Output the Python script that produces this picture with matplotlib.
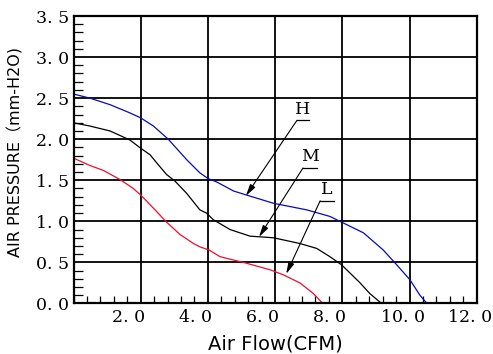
import numpy as np
import matplotlib
matplotlib.use('Agg')
import matplotlib.pyplot as plt
from matplotlib.ticker import MultipleLocator
from matplotlib.transforms import ScaledTranslation

# H curve (blue)
h_flow = [0.0, 0.49, 1.09, 1.68, 2.0, 2.38, 2.82, 3.37, 3.76, 4.01, 4.26, 4.76, 5.15, 5.95, 6.94,
          7.63, 7.98, 8.63, 9.22, 9.62, 10.01, 10.31, 10.52]
h_pres = [2.55, 2.50, 2.42, 2.32, 2.26, 2.16, 2.0, 1.75, 1.59, 1.52, 1.48, 1.37, 1.32, 1.22, 1.14,
          1.06, 0.99, 0.86, 0.65, 0.47, 0.29, 0.10, 0.0]
# M curve (black)
m_flow = [0.0, 0.49, 1.09, 1.68, 2.0, 2.28, 2.48, 2.77, 3.02, 3.37, 3.76, 3.96, 4.16, 4.66, 5.25,
          5.95, 6.74, 7.24, 7.63, 7.98, 8.53, 8.82, 9.17]
m_pres = [2.20, 2.16, 2.10, 1.99, 1.89, 1.81, 1.71, 1.57, 1.49, 1.34, 1.14, 1.10, 1.02, 0.90, 0.82,
          0.80, 0.73, 0.67, 0.57, 0.47, 0.25, 0.12, 0.0]
# L curve (red)
l_flow = [0.0, 0.49, 0.89, 1.38, 1.78, 2.0, 2.38, 2.77, 3.17, 3.57, 3.76, 4.04, 4.36, 5.15, 5.85,
          6.24, 6.74, 7.14, 7.42]
l_pres = [1.77, 1.68, 1.62, 1.51, 1.40, 1.32, 1.16, 0.99, 0.84, 0.73, 0.69, 0.65, 0.57, 0.49, 0.41,
          0.35, 0.25, 0.12, 0.0]

x_ticks = [2, 4, 6, 8, 10, 12]
x_labels = ['2. 0', '4. 0', '6. 0', '8. 0', '10. 0', '12. 0']
y_ticks = [0, 0.5, 1.0, 1.5, 2.0, 2.5, 3.0, 3.5]
y_labels = ['0. 0', '0. 5', '1. 0', '1. 5', '2. 0', '2. 5', '3. 0', '3. 5']

# curve tags: name, text pos, underline x-range, arrow tip
tags = [('H', (6.65, 7.01, 2.23), (5.13, 1.31)),
        ('M', (6.83, 7.25, 1.65), (5.52, 0.81)),
        ('L', (7.34, 7.75, 1.25), (6.33, 0.36))]

fig = plt.figure(figsize=(4.93, 3.54), dpi=100)
ax = fig.add_axes([0.1491, 0.1427, 0.8179, 0.8121])

ax.set_xlim(0, 12)
ax.set_ylim(0, 3.5)
ax.set_xticks(x_ticks)
ax.set_xticklabels(x_labels, family='DejaVu Serif', fontsize=12.5)
ax.set_yticks(y_ticks)
ax.set_yticklabels(y_labels, family='DejaVu Serif', fontsize=12.5)
ax.xaxis.set_minor_locator(MultipleLocator(0.4))
ax.yaxis.set_minor_locator(MultipleLocator(0.1))
ax.tick_params(which='major', length=0)
ax.tick_params(axis='x', which='major', pad=4)
ax.tick_params(axis='y', which='major', pad=3)
ax.tick_params(axis='x', which='minor', direction='in', length=5, width=0.9, color='black')
ax.tick_params(axis='y', which='minor', direction='in', length=6.5, width=0.9, color='black')
for lab in ax.get_xticklabels():
    lab.set_horizontalalignment('left')
    lab.set_transform(lab.get_transform() + ScaledTranslation(-29 / 100, 0, fig.dpi_scale_trans))

ax.grid(True, which='major', color='black', lw=1.3)
for s in ax.spines.values():
    s.set_linewidth(1.6)
    s.set_color('black')

ax.plot(h_flow, h_pres, color='#0a0ab4', lw=0.9)
ax.plot(m_flow, m_pres, color='black', lw=0.9)
ax.plot(l_flow, l_pres, color='#e8102e', lw=0.9)

for name, (x0, x1, yu), tip in tags:
    ax.plot([x0, x1], [yu, yu], color='black', lw=0.9)
    ax.text((x0 + x1) / 2, yu + 0.03, name, ha='center', va='bottom',
            family='DejaVu Serif', fontsize=12.5)
    ax.annotate('', xy=tip, xytext=(x0, yu),
                arrowprops=dict(arrowstyle='-|>,head_length=0.7,head_width=0.18',
                                color='black', lw=0.8, shrinkA=0, shrinkB=0))

fig.text(15 / 493, 1 - 152 / 354, 'AIR PRESSURE（mm-H2O)', rotation=90, ha='center', va='center',
         fontsize=11.5, family=['DejaVu Sans', 'Noto Sans CJK SC'])
fig.text(275 / 493, 1 - 344 / 354, 'Air Flow(CFM)', ha='center', va='center',
         fontsize=14, family='DejaVu Sans')

fig.savefig('out.png', dpi=100)
